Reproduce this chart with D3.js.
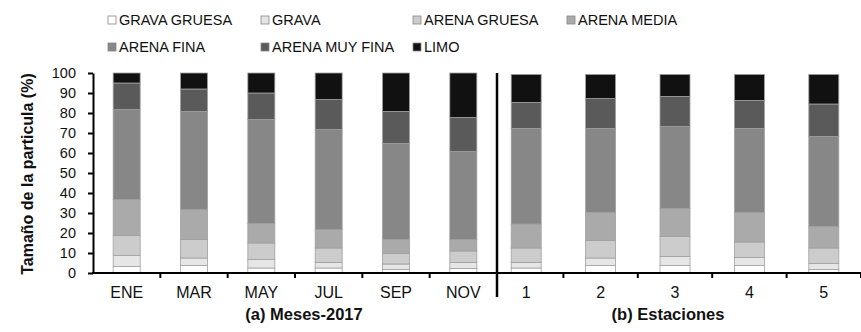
<!DOCTYPE html>
<html>
<head>
<meta charset="utf-8">
<script src="https://cdn.jsdelivr.net/npm/d3@7"></script>
<style>
  html, body { margin: 0; padding: 0; background: #fff; }
  svg { display: block; font-family: "Liberation Sans", Arial, sans-serif; }
</style>
</head>
<body>
<svg id="chart" width="861" height="332"></svg>
<script>
// ---- Data ----
const seriesNames = ["GRAVA GRUESA", "GRAVA", "ARENA GRUESA", "ARENA MEDIA", "ARENA FINA", "ARENA MUY FINA", "LIMO"];
const seriesColors = ["#ffffff", "#e6e6e6", "#cccccc", "#aaaaaa", "#878787", "#5a5a5a", "#111111"];

const monthCategories = ["ENE", "MAR", "MAY", "JUL", "SEP", "NOV"];
const stationCategories = ["1", "2", "3", "4", "5"];

// values per series (bottom to top), for months
const monthGravaGruesa   = [3.3, 3.7, 2.5, 2.5, 1.7, 2.3];
const monthGrava         = [5.4, 3.8, 4.2, 2.8, 2.8, 3.0];
const monthArenaGruesa   = [10.1, 9.2, 8.3, 7.2, 5.2, 5.7];
const monthArenaMedia    = [17.9, 15.0, 9.7, 9.2, 7.0, 5.7];
const monthArenaFina     = [45.0, 49.1, 52.0, 50.0, 48.0, 44.0];
const monthArenaMuyFina  = [13.3, 11.2, 13.3, 15.0, 16.1, 17.1];
const monthLimo          = [5.0, 8.0, 10.0, 13.3, 19.2, 22.2];

// values per series, for stations
const stationGravaGruesa  = [2.5, 3.7, 3.7, 3.7, 1.7];
const stationGrava        = [2.8, 3.8, 4.6, 4.0, 3.0];
const stationArenaGruesa  = [7.2, 8.8, 10.0, 7.8, 7.8];
const stationArenaMedia   = [12.0, 14.0, 14.0, 14.8, 10.8];
const stationArenaFina    = [47.7, 41.9, 41.0, 41.9, 44.9];
const stationArenaMuyFina = [13.1, 15.0, 15.0, 14.1, 16.3];
const stationLimo         = [14.0, 12.1, 11.0, 13.0, 14.8];

const yTicks = [0, 10, 20, 30, 40, 50, 60, 70, 80, 90, 100];

// ---- Build tables ----
function buildTable(cats, arrays) {
  return cats.map((c, i) => {
    const row = { cat: c };
    seriesNames.forEach((s, k) => row[s] = arrays[k][i]);
    return row;
  });
}
const monthTable = buildTable(monthCategories, [monthGravaGruesa, monthGrava, monthArenaGruesa, monthArenaMedia, monthArenaFina, monthArenaMuyFina, monthLimo]);
const stationTable = buildTable(stationCategories, [stationGravaGruesa, stationGrava, stationArenaGruesa, stationArenaMedia, stationArenaFina, stationArenaMuyFina, stationLimo]);

const svg = d3.select("#chart");
const color = d3.scaleOrdinal().domain(seriesNames).range(seriesColors);

const y = d3.scaleLinear().domain([0, 100]).range([273, 73]);
const stack = d3.stack().keys(seriesNames);

const axisY0 = 273;
const divX = 497;

function band(cats, r0, r1, barW) {
  const step = (r1 - r0) / cats.length;
  const p = 1 - barW / step;
  return d3.scaleBand().domain(cats).range([r0, r1]).paddingInner(p).paddingOuter(p / 2);
}
const xL = band(monthCategories, 93, 497, 27);
const xR = band(stationCategories, 489, 861, 30);

function drawBars(table, x) {
  const g = svg.append("g");
  const layers = stack(table);
  g.selectAll("g.layer").data(layers).join("g")
    .attr("class", "layer")
    .attr("fill", d => color(d.key))
    .selectAll("rect").data(d => d).join("rect")
    .attr("x", d => x(d.data.cat))
    .attr("width", x.bandwidth())
    .attr("y", d => y(d[1]))
    .attr("height", d => y(d[0]) - y(d[1]))
    .attr("stroke", "#a0a0a0")
    .attr("stroke-width", 0.8);
}
drawBars(monthTable, xL);
drawBars(stationTable, xR);

// ---- Y axis ----
const yAxis = svg.append("g")
  .attr("transform", "translate(93,0)")
  .call(d3.axisLeft(y).tickValues(yTicks).tickSize(5).tickSizeOuter(0).tickPadding(12));
yAxis.select(".domain").attr("stroke", "#000").attr("stroke-width", 2);
yAxis.selectAll(".tick line").attr("stroke", "#000").attr("stroke-width", 2);
yAxis.selectAll(".tick text").attr("font-size", "14.5px").attr("fill", "#111")
  .attr("font-family", "'Liberation Sans', Arial, sans-serif");

// ---- X axes ----
function drawXAxis(x, r0, r1) {
  const g = svg.append("g").attr("transform", `translate(0,${axisY0})`);
  const ax = d3.axisBottom(x).tickSize(0).tickSizeOuter(0).tickPadding(14);
  g.call(ax);
  g.select(".domain").remove();
  g.selectAll(".tick text").attr("font-size", "16px").attr("fill", "#111")
    .attr("font-family", "'Liberation Sans', Arial, sans-serif");
  g.append("line").attr("x1", r0).attr("x2", r1).attr("y1", 0).attr("y2", 0)
    .attr("stroke", "#000").attr("stroke-width", 2);
  // boundary ticks
  const step = x.step();
  const bounds = x.domain().map(c => x(c) - (step - x.bandwidth()) / 2 + step);
  g.selectAll("line.bt").data(bounds).join("line")
    .attr("class", "bt")
    .attr("x1", d => d).attr("x2", d => d)
    .attr("y1", 0).attr("y2", 5)
    .attr("stroke", "#000").attr("stroke-width", 2);
}
drawXAxis(xL, 92, 497);
drawXAxis(xR, 497, 861);

// divider
svg.append("line")
  .attr("x1", divX).attr("x2", divX).attr("y1", 73).attr("y2", 297)
  .attr("stroke", "#000").attr("stroke-width", 2.5);

// ---- Titles ----
svg.append("text").attr("x", 304).attr("y", 320).attr("text-anchor", "middle")
  .attr("font-size", "16.5px").attr("font-weight", "bold").attr("fill", "#111")
  .text("(a) Meses-2017");
svg.append("text").attr("x", 668).attr("y", 320).attr("text-anchor", "middle")
  .attr("font-size", "16.5px").attr("font-weight", "bold").attr("fill", "#111")
  .text("(b) Estaciones");
svg.append("text")
  .attr("transform", "translate(33,174) rotate(-90)")
  .attr("text-anchor", "middle")
  .attr("font-size", "16px").attr("font-weight", "bold").attr("fill", "#111")
  .text("Tamaño de la particula (%)");

// ---- Legend ----
const legendPos = [[108, 20], [261, 20], [413, 20], [567, 20], [108, 47], [261, 47], [413, 47]];
const lg = svg.append("g");
seriesNames.forEach((s, i) => {
  const [lx, ly] = legendPos[i];
  lg.append("rect").attr("x", lx).attr("y", ly - 4).attr("width", 8).attr("height", 8)
    .attr("fill", color(s)).attr("stroke", "#888").attr("stroke-width", 0.8);
  lg.append("text").attr("x", lx + 11).attr("y", ly + 5)
    .attr("font-size", "14.5px").attr("fill", "#111").text(s);
});
</script>
</body>
</html>
